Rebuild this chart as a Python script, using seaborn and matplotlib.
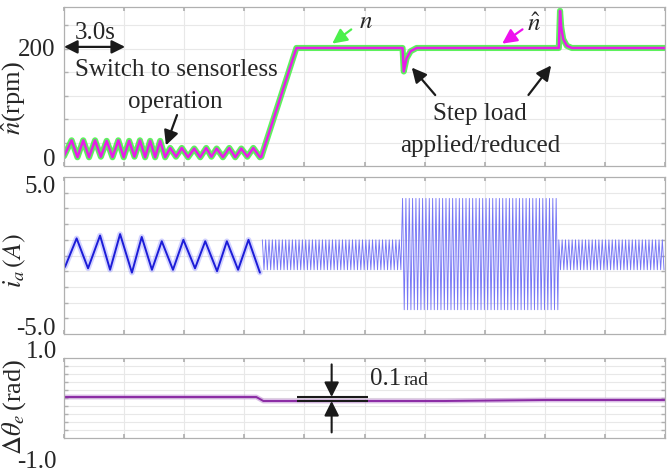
import numpy as np
import pandas as pd
import matplotlib
matplotlib.use("Agg")
import matplotlib.pyplot as plt
import seaborn as sns

# ---------------- data ----------------
# time base: 10 divisions of 3.0 s
t_end = 30.0
div = 3.0

# speed ripple at low speed (rpm), vertices of the ripple
ripple_peak_t = [0.38, 0.96, 1.55, 2.13, 2.71, 3.25, 3.79, 4.30, 4.80,
                 5.30, 5.88, 6.50, 7.10, 7.62, 8.25, 8.85, 9.45]
ripple_peak_v = [31, 31, 31, 30, 31, 30, 31, 30, 30,
                 17, 17, 16, 17, 16, 17, 16, 17]
ripple_trough_t = [0.0, 0.67, 1.25, 1.84, 2.42, 2.98, 3.52, 4.05, 4.55,
                   5.05, 5.59, 6.19, 6.80, 7.36, 7.93, 8.55, 9.15, 9.78]
ripple_trough_v = [2, 0, 0, 1, 0, 0, 1, 0, 0,
                   0, 1, 0, 0, 1, 0, 0, 1, 0]

# acceleration to 200 rpm, load step applied / removed
speed_event_t = [9.85, 11.6, 16.9, 16.96, 17.1, 17.3, 17.6,
                 24.7, 24.76, 24.82, 24.92, 25.1, 25.35, 30.0]
speed_event_v = [1, 200, 200, 157, 181, 194, 200,
                 200, 268, 238, 216, 204, 200, 200]

# phase current (A): low-speed triangular envelope
cur_peak_t = [0.63, 1.80, 2.80, 3.88, 4.88, 5.96, 7.05, 8.13, 9.21]
cur_peak_v = [1.2, 1.4, 1.5, 1.3, 1.0, 1.1, 1.0, 1.0, 1.1]
cur_trough_t = [0.05, 1.20, 2.30, 3.39, 4.39, 5.44, 6.54, 7.64, 8.69, 9.78]
cur_trough_v = [-0.8, -0.9, -1.0, -1.2, -1.0, -1.0, -0.9, -1.1, -1.0, -1.2]

# phase current at 200 rpm: segments (no load / load / no load)
hf_seg_start = [9.9, 16.9, 24.7]
hf_seg_end = [16.9, 24.7, 30.0]
hf_seg_high = [1.1, 4.0, 1.1]
hf_seg_low = [-1.0, -3.8, -1.0]
hf_freq = 6.0  # Hz, electrical frequency at 200 rpm

# position estimation error (rad)
theta_t = [0.0, 9.6, 9.95, 19.0, 24.0, 30.0]
theta_v = [0.025, 0.025, -0.075, -0.075, -0.05, -0.05]

# ---------------- build traces ----------------
rip = sorted(zip(ripple_peak_t + ripple_trough_t, ripple_peak_v + ripple_trough_v))
speed_df = pd.DataFrame(rip + list(zip(speed_event_t, speed_event_v)),
                        columns=["t", "rpm"])

cur_low = sorted(zip(cur_peak_t + cur_trough_t, cur_peak_v + cur_trough_v))
cur_low_df = pd.DataFrame(cur_low, columns=["t", "i"])

hf_rows = []
for s, e, hi, lo in zip(hf_seg_start, hf_seg_end, hf_seg_high, hf_seg_low):
    ts = np.arange(s, e, 0.5 / hf_freq)
    vals = np.where(np.arange(len(ts)) % 2 == 0, hi, lo)
    hf_rows += list(zip(ts, vals))
cur_hf_df = pd.DataFrame(hf_rows, columns=["t", "i"])

theta_df = pd.DataFrame({"t": theta_t, "err": theta_v})

# ---------------- style ----------------
sns.set_theme(style="white")
plt.rcParams["font.family"] = ["Liberation Serif", "DejaVu Serif"]
plt.rcParams["mathtext.fontset"] = "stix"

FS = 18
spine_c = "#b0b0b0"
grid_c = "#e8e8e8"

fig = plt.figure(figsize=(6.72, 4.76), dpi=100)
W, H = 672.0, 476.0


def panel(top, bottom):
    return fig.add_axes([64 / W, 1 - bottom / H, 601 / W, (bottom - top) / H])


ax1 = panel(7, 166)
ax2 = panel(177, 334)
ax3 = panel(358, 438)


def frame(ax, ylim, grid_vals):
    ax.set_xlim(0, t_end)
    ax.set_ylim(*ylim)
    ax.set_xticks(np.arange(0, t_end + 0.1, div))
    ax.set_yticks(grid_vals, minor=True)
    ax.grid(False)
    ax.xaxis.grid(True, which="major", color=grid_c, lw=0.8)
    ax.yaxis.grid(True, which="minor", color=grid_c, lw=0.8)
    ax.tick_params(axis="x", which="major", labelbottom=False, direction="in",
                   length=3, color=spine_c, top=True, bottom=True)
    ax.tick_params(axis="y", which="minor", direction="in", length=3,
                   color=spine_c, left=True, right=True)
    ax.tick_params(axis="y", which="major", length=0, labelsize=FS, pad=6)
    for sp in ax.spines.values():
        sp.set_color(spine_c)
        sp.set_linewidth(0.9)
    ax.set_xlabel("")
    ax.set_ylabel("")


# ---- speed ----
frame(ax1, (-16, 275), np.arange(26, 260, 43.2))
sns.lineplot(data=speed_df, x="t", y="rpm", ax=ax1, color="#4cf04c", lw=4.4,
             sort=False, estimator=None, alpha=0.9)
sns.lineplot(data=speed_df, x="t", y="rpm", ax=ax1, color="#e81ce8", lw=1.8,
             sort=False, estimator=None, dashes=False)
ax1.set_xlabel("")
ax1.set_yticks([0, 200])
ax1.set_yticklabels(["0", "200"])
ax1.set_ylabel(r"$\hat{n}$(rpm)", fontsize=FS + 1)
ax1.yaxis.set_label_coords(-0.06, 0.43)

arrow_k = dict(arrowstyle="-|>", color="k", lw=1.6, mutation_scale=22)
ax1.annotate("", xy=(0, 202), xytext=(3.05, 202),
             arrowprops=dict(arrowstyle="<|-|>", color="k", lw=1.6, mutation_scale=20,
                             shrinkA=0, shrinkB=0))
ax1.text(1.55, 228, "3.0s", fontsize=FS, ha="center", va="center")
ax1.text(5.59, 159, "Switch to sensorless", fontsize=FS, ha="center", va="center")
ax1.text(5.54, 101, "operation", fontsize=FS, ha="center", va="center")
ax1.annotate("", xy=(5.04, 17), xytext=(5.69, 82), arrowprops=arrow_k)
ax1.text(15.05, 248, "$n$", fontsize=FS, ha="center", va="center")
ax1.annotate("", xy=(13.28, 205), xytext=(14.45, 237),
             arrowprops=dict(arrowstyle="-|>", color="#4cf04c", lw=1.6, mutation_scale=22))
ax1.text(23.45, 243, r"$\hat{n}$", fontsize=FS, ha="center", va="center")
ax1.annotate("", xy=(21.76, 205), xytext=(23.0, 237),
             arrowprops=dict(arrowstyle="-|>", color="#ee10ee", lw=1.6, mutation_scale=22))
ax1.text(20.77, 80, "Step load", fontsize=FS, ha="center", va="center")
ax1.text(20.8, 20, "applied/reduced", fontsize=FS, ha="center", va="center")
ax1.annotate("", xy=(17.27, 168), xytext=(18.62, 110), arrowprops=arrow_k)
ax1.annotate("", xy=(24.4, 172), xytext=(23.1, 110), arrowprops=arrow_k)

# ---- phase current ----
frame(ax2, (-5.5, 5.5), np.linspace(-5.5, 5.5, 11)[1:-1])
sns.lineplot(data=cur_hf_df, x="t", y="i", ax=ax2, color="#7676f6", lw=0.65,
             sort=False, estimator=None)
sns.lineplot(data=cur_low_df, x="t", y="i", ax=ax2, color="#8080ff", lw=4,
             sort=False, estimator=None, alpha=0.35)
sns.lineplot(data=cur_low_df, x="t", y="i", ax=ax2, color="#1c1cd8", lw=1.4,
             sort=False, estimator=None)
ax2.set_xlabel("")
ax2.set_yticks([-5, 5])
ax2.set_yticklabels(["-5.0", "5.0"])
ax2.set_ylabel(r"$i_a\,(A)$", fontsize=FS + 1)
ax2.yaxis.set_label_coords(-0.06, 0.47)

# ---- position error ----
frame(ax3, (-1, 1), np.linspace(-1, 1, 11)[1:-1])
sns.lineplot(data=theta_df, x="t", y="err", ax=ax3, color="#b070c8", lw=3.5,
             sort=False, estimator=None, alpha=0.45)
sns.lineplot(data=theta_df, x="t", y="err", ax=ax3, color="#8a2aa4", lw=1.4,
             sort=False, estimator=None)
ax3.set_yticks([])
ax3.text(-0.012, 1.07, "1.0", transform=ax3.transAxes, fontsize=FS,
         ha="right", va="center")
ax3.text(-0.012, -0.3, "-1.0", transform=ax3.transAxes, fontsize=FS,
         ha="right", va="center")
ax3.set_ylabel(r"$\Delta\theta_e\,$(rad)", fontsize=FS + 1)
ax3.yaxis.set_label_coords(-0.06, 0.39)
ax3.set_xlabel("Time (s)", fontsize=FS)
ax3.xaxis.set_label_coords(0.517, -0.28)
ax3.xaxis.label.set_va("center")

ax3.hlines([0.025, -0.075], 11.63, 15.18, color="k", lw=1.5)
ax3.annotate("", xy=(13.36, 0.025), xytext=(13.36, 0.84),
             arrowprops=dict(arrowstyle="-|>", color="k", lw=1.5, mutation_scale=22,
                             shrinkA=0, shrinkB=0))
ax3.annotate("", xy=(13.36, -0.075), xytext=(13.36, -0.86),
             arrowprops=dict(arrowstyle="-|>", color="k", lw=1.5, mutation_scale=22,
                             shrinkA=0, shrinkB=0))
ax3.text(15.27, 0.33, "0.1", fontsize=FS, ha="left", va="baseline")
ax3.text(16.95, 0.33, "rad", fontsize=14, ha="left", va="baseline")

fig.savefig("out.png", dpi=100)
